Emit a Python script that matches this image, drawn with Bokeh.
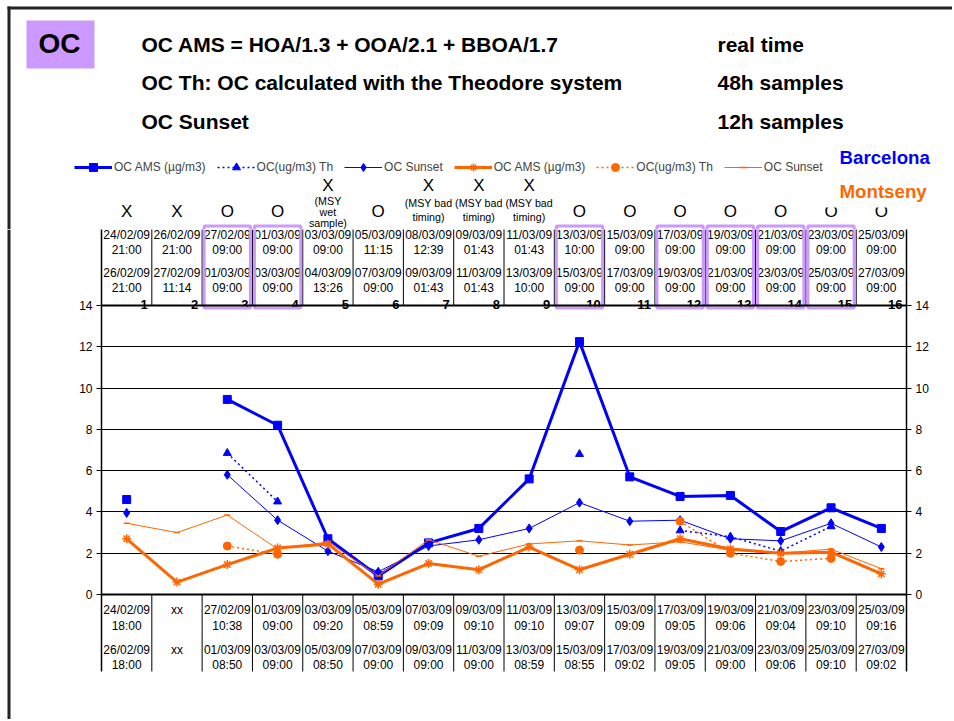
import numpy as np
from bokeh.plotting import figure
from bokeh.models import (ColumnDataSource, Range1d, LinearAxis, FixedTicker, Span,
                          Legend, LegendItem)
from bokeh.layouts import column, row
from bokeh.embed import file_html
from bokeh.resources import INLINE
from bokeh.core.properties import value

NaN = float("nan")

# ---------------- data ----------------
samples = list(range(1, 17))
marks = ["X", "X", "O", "O", "X", "O", "X", "X", "X", "O", "O", "O", "O", "O", "O", "O"]
notes = [[], [], [], [], ["(MSY", "wet", "sample)"], [], ["(MSY bad", "timing)"],
         ["(MSY bad", "timing)"], ["(MSY bad", "timing)"], [], [], [], [], [], [], []]
highlighted = [3, 4, 10, 12, 13, 14, 15]

th_start_date = ["24/02/09", "26/02/09", "27/02/09", "01/03/09", "03/03/09", "05/03/09",
                 "08/03/09", "09/03/09", "11/03/09", "13/03/09", "15/03/09", "17/03/09",
                 "19/03/09", "21/03/09", "23/03/09", "25/03/09"]
th_start_time = ["21:00", "21:00", "09:00", "09:00", "09:00", "11:15", "12:39", "01:43",
                 "01:43", "10:00", "09:00", "09:00", "09:00", "09:00", "09:00", "09:00"]
th_end_date = ["26/02/09", "27/02/09", "01/03/09", "03/03/09", "04/03/09", "07/03/09",
               "09/03/09", "11/03/09", "13/03/09", "15/03/09", "17/03/09", "19/03/09",
               "21/03/09", "23/03/09", "25/03/09", "27/03/09"]
th_end_time = ["21:00", "11:14", "09:00", "09:00", "13:26", "09:00", "01:43", "01:43",
               "10:00", "09:00", "09:00", "09:00", "09:00", "09:00", "09:00", "09:00"]

su_start_date = ["24/02/09", "xx", "27/02/09", "01/03/09", "03/03/09", "05/03/09",
                 "07/03/09", "09/03/09", "11/03/09", "13/03/09", "15/03/09", "17/03/09",
                 "19/03/09", "21/03/09", "23/03/09", "25/03/09"]
su_start_time = ["18:00", "", "10:38", "09:00", "09:20", "08:59", "09:09", "09:10",
                 "09:10", "09:07", "09:09", "09:05", "09:06", "09:04", "09:10", "09:16"]
su_end_date = ["26/02/09", "xx", "01/03/09", "03/03/09", "05/03/09", "07/03/09",
               "09/03/09", "11/03/09", "13/03/09", "15/03/09", "17/03/09", "19/03/09",
               "21/03/09", "23/03/09", "25/03/09", "27/03/09"]
su_end_time = ["18:00", "", "08:50", "09:00", "08:50", "09:00", "09:00", "09:00",
               "08:59", "08:55", "09:02", "09:05", "09:00", "09:06", "09:10", "09:02"]

bcn_ams = [4.6, NaN, 9.45, 8.2, 2.7, 0.9, 2.5, 3.2, 5.6, 12.25, 5.7, 4.75, 4.8, 3.05, 4.2, 3.2]
bcn_th = [NaN, NaN, 6.85, 4.5, NaN, NaN, NaN, NaN, NaN, 6.8, NaN, 3.1, 2.8, 2.1, 3.3, NaN]
bcn_sun = [3.95, NaN, 5.8, 3.6, 2.1, 1.1, 2.35, 2.65, 3.2, 4.45, 3.55, 3.6, 2.7, 2.6, 3.45, 2.3]
mts_ams = [2.7, 0.6, 1.45, 2.25, 2.45, 0.5, 1.5, 1.2, 2.3, 1.2, 1.95, 2.7, 2.2, 2.0, 2.05, 1.0]
mts_th = [NaN, NaN, 2.35, 1.95, NaN, NaN, NaN, NaN, NaN, 2.15, NaN, 3.55, 2.0, 1.6, 1.75, NaN]
mts_sun = [3.45, 3.0, 3.85, 2.2, 2.55, 0.9, 2.65, 1.85, 2.45, 2.6, 2.4, 2.55, 2.15, 2.0, 2.2, 1.25]

y_ticks = [0, 2, 4, 6, 8, 10, 12, 14]

# ---------------- style / geometry ----------------
FONT = "Liberation Sans"
BLUE = "#0000FF"
ORANGE = "#FF6600"
LILAC = "#CC99FF"

W = 952
FX0, FX1 = 101, 906              # plot frame (page px)
COLW = (FX1 - FX0) / 16.0
Y14, Y0 = 305, 594
PPU = (Y0 - Y14) / 14.0
HEAD_BOTTOM = 229
PAGE_BOTTOM = 719
AXIS_BORDER = 53
STRIP_W = FX0 - AXIS_BORDER


def ydat(py):
    return (Y0 - py) / PPU


def txt(fig, x, y, text, size, style="normal", color="black", align="center",
        baseline="middle", x_range_name="default", x_offset=0):
    src = ColumnDataSource(dict(x=list(x), y=list(y), t=list(text)))
    fig.text(x="x", y="y", text="t", source=src, text_font=value(FONT),
             text_font_size=size, text_font_style=style, text_color=color,
             text_align=align, text_baseline=baseline, x_range_name=x_range_name,
             x_offset=x_offset)


def bare(fig):
    fig.grid.visible = False
    fig.outline_line_color = None
    fig.background_fill_color = "white"
    fig.border_fill_color = "white"


# ---------------- header ----------------
head = figure(width=W, height=HEAD_BOTTOM,
              x_range=Range1d(0.5 - FX0 / COLW, 0.5 + (W - FX0) / COLW),
              y_range=Range1d(HEAD_BOTTOM, 0), title=None,
              toolbar_location=None, output_backend="svg", min_border=0,
              x_axis_location=None, y_axis_location=None)
head.extra_x_ranges = {"px": Range1d(0, W)}
bare(head)

# outer frame
head.segment(x0=[7, 8.5], y0=[7.5, 6], x1=[W, 8.5], y1=[7.5, HEAD_BOTTOM],
             line_color="#222222", line_width=3, x_range_name="px")

head.quad(left=[26], right=[94], top=[20], bottom=[68], fill_color=LILAC,
          line_color=None, x_range_name="px")
txt(head, [59], [43], ["OC"], "28px", "bold", x_range_name="px")

txt(head, [141, 141, 141], [44, 82, 121],
    ["OC AMS = HOA/1.3 + OOA/2.1 + BBOA/1.7",
     "OC Th: OC calculated with the Theodore system", "OC Sunset"],
    "21px", "bold", align="left", x_range_name="px")
txt(head, [717, 717, 717], [44, 82, 121], ["real time", "48h samples", "12h samples"],
    "21px", "bold", align="left", x_range_name="px")

# X / O marks and notes
mark_y = [185 if n else 211 for n in notes]
txt(head, samples, mark_y, marks, "17px")
nx, ny, nt = [], [], []
for s, n in zip(samples, notes):
    step = 14 if len(n) < 3 else 11
    start = 202.5 if len(n) < 3 else 200
    for j, line in enumerate(n):
        nx.append(s)
        ny.append(start + step * j)
        nt.append(line)
txt(head, nx, ny, nt, "10.7px")

# box tops
head.quad(left=[h - 0.46 for h in highlighted], right=[h + 0.46 for h in highlighted],
          top=225.5, bottom=307.5, fill_color=None, line_color=LILAC, line_width=3)

# site labels
head.quad(left=[820], right=[940], top=[176], bottom=[207], fill_color="white",
          line_color=None, x_range_name="px")
txt(head, [839], [157], ["Barcelona"], "18.7px", "bold", BLUE, align="left", x_range_name="px")
txt(head, [839], [190.5], ["Montseny"], "18.7px", "bold", ORANGE, align="left", x_range_name="px")

# legend (dummy renderers carrying the styles)
dummy = ColumnDataSource(dict(x=[NaN], y=[NaN]))
styles = [
    ("OC AMS (µg/m3)", BLUE, 3, "solid", "square", 8),
    ("OC(ug/m3) Th", BLUE, 1.5, "2 3", "triangle", 8),
    ("OC Sunset", BLUE, 1, "solid", "diamond", 9),
    ("OC AMS (µg/m3)", ORANGE, 3, "solid", "asterisk", 9),
    ("OC(ug/m3) Th", ORANGE, 1.5, "2 3", "circle", 8),
    ("OC Sunset", ORANGE, 1, "solid", "dash", 6),
]
items = []
for lab, col, lw, dash, mk, ms in styles:
    rl = head.line("x", "y", source=dummy, line_color=col, line_width=lw, line_dash=dash)
    rm = head.scatter("x", "y", source=dummy, marker=mk, size=ms, fill_color=col,
                      line_color=col, line_width=1.5 if mk in ("asterisk", "dash") else 1)
    items.append(LegendItem(label=lab, renderers=[rl, rm]))
legend = Legend(items=items, orientation="horizontal",
                location=(74, HEAD_BOTTOM - 177),
                glyph_width=38, glyph_height=20, label_height=12, label_standoff=2,
                spacing=11, padding=0, margin=0, border_line_color=None,
                background_fill_alpha=0, label_text_font=FONT,
                label_text_font_size="12px")
head.add_layout(legend)

# ---------------- left strip (outer frame) ----------------
MAIN_H = PAGE_BOTTOM - HEAD_BOTTOM
strip = figure(width=STRIP_W, height=MAIN_H, x_range=Range1d(0, STRIP_W),
               y_range=Range1d(0, 1), title=None, toolbar_location=None,
               output_backend="svg", min_border=0, x_axis_location=None,
               y_axis_location=None)
bare(strip)
strip.segment(x0=[8.5], y0=[0], x1=[8.5], y1=[1], line_color="#222222", line_width=3)

# ---------------- main chart ----------------
main = figure(width=W - STRIP_W, height=MAIN_H, x_range=Range1d(0.5, 16.5),
              y_range=Range1d(ydat(PAGE_BOTTOM), ydat(HEAD_BOTTOM)), title=None,
              toolbar_location=None, output_backend="svg",
              min_border_left=AXIS_BORDER, min_border_right=W - FX1,
              min_border_top=0, min_border_bottom=0,
              x_axis_location=None, y_axis_location=None)
main.outline_line_color = None
main.xgrid.visible = False
main.ygrid.ticker = FixedTicker(ticks=y_ticks)
main.ygrid.grid_line_color = "black"
main.ygrid.grid_line_width = 1

for side in ("left", "right"):
    ax = LinearAxis(ticker=FixedTicker(ticks=y_ticks), bounds=(ydat(671), ydat(228)))
    ax.axis_line_color = "black"
    ax.axis_line_width = 1.5
    ax.major_tick_line_color = "black"
    ax.major_tick_out = 5
    ax.major_tick_in = 0
    ax.minor_tick_line_color = None
    ax.major_label_text_font = FONT
    ax.major_label_text_font_size = "12px"
    ax.major_label_text_color = "black"
    ax.major_label_standoff = 4
    main.add_layout(ax, side)

for loc in (0, 14):
    main.add_layout(Span(location=loc, dimension="width", line_color="black", line_width=2))

bounds = [s + 0.5 for s in samples[:-1]]
main.segment(x0=bounds, x1=bounds, y0=ydat(228), y1=14, line_color="black", line_width=1)
main.segment(x0=bounds, x1=bounds, y0=0, y1=ydat(671), line_color="black", line_width=1)

# sampling-period tables
for vals, py in ((th_start_date, 234.5), (th_start_time, 249), (th_end_date, 272),
                 (th_end_time, 287), (su_start_date, 609), (su_start_time, 625),
                 (su_end_date, 649), (su_end_time, 664)):
    txt(main, samples, [ydat(py)] * 16, vals, "12px")
txt(main, [s + 0.5 for s in samples], [ydat(303.5)] * 16, [str(s) for s in samples],
    "13px", "bold", align="right", baseline="alphabetic", x_offset=-4)

main.quad(left=[h - 0.46 for h in highlighted], right=[h + 0.46 for h in highlighted],
          top=ydat(225.5), bottom=ydat(307.5), fill_color=None, line_color=LILAC,
          line_width=3)

series = [
    (bcn_ams, BLUE, 3, "solid", "square", 8),
    (bcn_th, BLUE, 1.5, "2 3", "triangle", 8),
    (bcn_sun, BLUE, 1, "solid", "diamond", 9),
    (mts_ams, ORANGE, 3, "solid", "asterisk", 9),
    (mts_th, ORANGE, 1.5, "2 3", "circle", 8),
    (mts_sun, ORANGE, 1, "solid", "dash", 6),
]
for vals, col, lw, dash, mk, ms in series:
    src = ColumnDataSource(dict(x=samples, y=np.array(vals, dtype=float)))
    main.line("x", "y", source=src, line_color=col, line_width=lw, line_dash=dash)
    main.scatter("x", "y", source=src, marker=mk, size=ms, fill_color=col, line_color=col,
                 line_width=1.5 if mk in ("asterisk", "dash") else 1)

layout = column(head, row(strip, main))
open("out.html", "w").write(file_html(layout, INLINE))
